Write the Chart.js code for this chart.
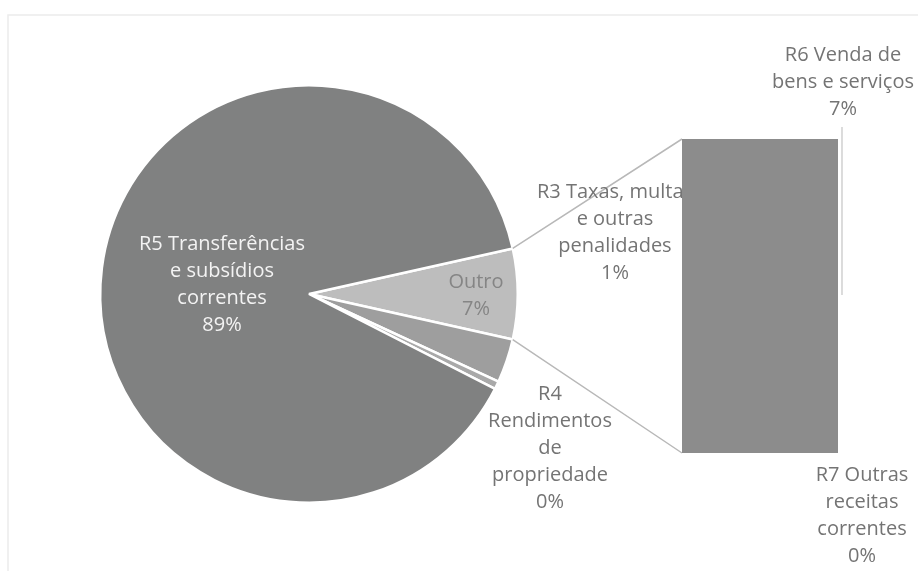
<!DOCTYPE html>
<html>
<head>
<meta charset="utf-8">
<script src="https://cdn.jsdelivr.net/npm/chart.js@4.4.0/dist/chart.umd.min.js"></script>
<style>
  html, body { margin: 0; padding: 0; background: #fff; }
  #wrap { position: relative; width: 918px; height: 571px; overflow: hidden; }
  #pieCanvas { position: absolute; left: 0; top: 0; }
  #barBox { position: absolute; left: 682px; top: 139px; width: 156px; height: 314px; }
</style>
</head>
<body>
<div id="wrap">
  <canvas id="pieCanvas" width="918" height="571"></canvas>
  <div id="barBox"><canvas id="barCanvas" width="156" height="314"></canvas></div>
</div>
<script>
// pie part (Outro = R6 + R7, shown in the bar)
const pieLabels = ['Outro', 'R3 Taxas, multas e outras penalidades', 'R4 Rendimentos de propriedade', 'R5 Transferências e subsídios correntes'];
const pieValues = [7, 3.4, 0.6, 89];
const pieColors = ['#bdbdbd', '#9e9e9e', '#a9a9a9', '#808181'];

// bar part
const barLabels = ['R7 Outras receitas correntes', 'R6 Venda de bens e serviços'];
const barValues = [0.05, 7];
const barColors = ['#8c8c8c', '#8c8c8c'];

// data label texts, as printed
const pieTexts = [
  ['Outro', '7%'],
  ['R3 Taxas, multas', 'e outras', 'penalidades', '1%'],
  ['R4', 'Rendimentos', 'de', 'propriedade', '0%'],
  ['R5 Transferências', 'e subsídios', 'correntes', '89%']
];
const barTexts = [
  ['R7 Outras', 'receitas', 'correntes', '0%'],
  ['R6 Venda de', 'bens e serviços', '7%']
];

const FONT = '20px "Open Sans", sans-serif';
const LINE_H = 27;
const GREY_TXT = '#747474';

const barBox = document.getElementById('barBox');

const barChart = new Chart(document.getElementById('barCanvas'), {
  type: 'bar',
  data: {
    labels: [''],
    datasets: barLabels.map((l, i) => ({
      label: l,
      data: [barValues[i]],
      backgroundColor: barColors[i],
      borderWidth: 0,
      barPercentage: 1,
      categoryPercentage: 1
    }))
  },
  options: {
    responsive: false,
    animation: false,
    plugins: { legend: { display: false }, tooltip: { enabled: false } },
    scales: {
      x: { stacked: true, display: false },
      y: { stacked: true, display: false, min: 0, max: barValues.reduce((a, b) => a + b, 0) }
    }
  }
});

function drawLines(ctx, lines, cx, cy, color) {
  ctx.fillStyle = color;
  const top = cy - (lines.length - 1) * LINE_H / 2;
  lines.forEach((t, i) => ctx.fillText(t, cx, top + i * LINE_H));
}

const pieOfBar = {
  id: 'pieOfBar',
  beforeDraw(chart) {
    const ctx = chart.ctx;
    ctx.save();
    // faint frame of the scanned chart area
    ctx.strokeStyle = '#ececec';
    ctx.lineWidth = 1.5;
    ctx.beginPath();
    ctx.moveTo(8, 571);
    ctx.lineTo(8, 15);
    ctx.lineTo(918, 15);
    ctx.stroke();
    ctx.restore();
  },
  afterDraw(chart) {
    const ctx = chart.ctx;
    const arcs = chart.getDatasetMeta(0).data;
    const outro = arcs[0];
    const ox = barBox.offsetLeft, oy = barBox.offsetTop;
    const top = barChart.getDatasetMeta(1).data[0];
    const bottom = barChart.getDatasetMeta(0).data[0];
    const left = ox + top.x - top.width / 2;
    const right = ox + top.x + top.width / 2;
    const barTop = oy + top.y;
    const barBottom = oy + bottom.base;

    ctx.save();
    // connector lines pie -> bar
    ctx.strokeStyle = '#b8b8b8';
    ctx.lineWidth = 1.5;
    ctx.beginPath();
    ctx.moveTo(outro.x + Math.cos(outro.startAngle) * outro.outerRadius, outro.y + Math.sin(outro.startAngle) * outro.outerRadius);
    ctx.lineTo(left, barTop);
    ctx.moveTo(outro.x + Math.cos(outro.endAngle) * outro.outerRadius, outro.y + Math.sin(outro.endAngle) * outro.outerRadius);
    ctx.lineTo(left, barBottom);
    ctx.stroke();

    // leader line for R6 label
    ctx.strokeStyle = '#c4c4c4';
    ctx.lineWidth = 1.2;
    ctx.beginPath();
    ctx.moveTo(right + 4, barTop - 12);
    ctx.lineTo(right + 4, oy + (top.y + top.base) / 2);
    ctx.stroke();

    // labels
    ctx.font = FONT;
    ctx.textAlign = 'center';
    ctx.textBaseline = 'middle';
    const mid = a => (a.startAngle + a.endAngle) / 2;
    const r5 = arcs[3];
    drawLines(ctx, pieTexts[3], r5.x + Math.cos(mid(r5)) * r5.outerRadius * 0.42, r5.y + Math.sin(mid(r5)) * r5.outerRadius * 0.42 + 2, '#f3f3f3');
    drawLines(ctx, pieTexts[0], outro.x + Math.cos(mid(outro)) * outro.outerRadius * 0.8, outro.y + 2, '#858585');
    drawLines(ctx, pieTexts[1], 615, 233, GREY_TXT);
    drawLines(ctx, pieTexts[2], 550, 448, GREY_TXT);
    drawLines(ctx, barTexts[1], right + 5, barTop - 57, GREY_TXT);
    drawLines(ctx, barTexts[0], right + 24, barBottom + 63, GREY_TXT);
    ctx.restore();
  }
};

new Chart(document.getElementById('pieCanvas'), {
  type: 'pie',
  data: {
    labels: pieLabels,
    datasets: [{
      data: pieValues,
      backgroundColor: pieColors,
      borderColor: '#ffffff',
      borderWidth: 2.5
    }]
  },
  options: {
    responsive: false,
    animation: false,
    rotation: 77.4,
    layout: { padding: { left: 99, right: 399, top: 84, bottom: 67 } },
    plugins: { legend: { display: false }, tooltip: { enabled: false } }
  },
  plugins: [pieOfBar]
});
</script>
</body>
</html>
